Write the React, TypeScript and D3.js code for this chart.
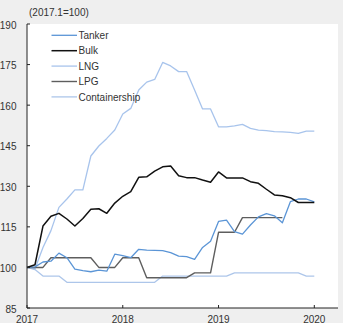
import React from "react";
import * as d3 from "d3";

// Monthly index values, 2017.1 = 100 (January 2017 through January 2020)
const tanker = [100, 100.2, 102, 102.3, 105.3, 103.6, 99.4, 98.8, 98.4, 99, 98.6, 104.9, 104.4, 103.6, 106.7, 106.4, 106.3, 106.2, 105.5, 104.2, 104, 103, 107.4, 109.7, 117, 117.5, 113.2, 112.3, 115.7, 118.7, 119.9, 119.1, 116.5, 124.3, 125.3, 125.3, 124.2];
const bulk = [100, 101, 115.3, 118.9, 120, 117.9, 115.3, 118.1, 121.5, 121.7, 120, 123.8, 126.3, 128, 133.3, 133.5, 135.6, 137.2, 137.5, 133.9, 133.2, 133.2, 132.3, 131.5, 135.3, 133.1, 133.1, 133.1, 131.7, 131.1, 128.9, 126.8, 126.5, 125.8, 124, 124, 124];
const lng = [100, 99.5, 107.4, 113.6, 122.2, 125.3, 128.7, 128.7, 141.2, 144.9, 147.7, 150.8, 156.7, 158.8, 165.6, 168.5, 169.5, 175.8, 174.5, 172.4, 172.4, 165.6, 158.6, 158.6, 152, 152, 152.3, 152.9, 151.4, 150.8, 150.6, 150.2, 150.1, 149.9, 149.6, 150.4, 150.4];
const lpg = [100, 100, 100, 103.6, 103.6, 103.6, 103.6, 103.6, 103.6, 100, 100, 100, 103.6, 103.6, 103.6, 96.2, 96.2, 96.2, 96.2, 96.2, 96.2, 98, 98, 98, 113, 113, 113, 118.4, 118.4, 118.4, 118.4, 118.4, 118.4];
const containership = [100, 99.2, 96.8, 96.8, 96.8, 94.5, 94.5, 94.5, 94.5, 94.5, 94.5, 94.5, 94.5, 94.5, 94.5, 94.5, 94.5, 96.8, 96.8, 96.8, 96.8, 96.8, 96.8, 96.8, 96.8, 96.8, 98, 98, 98, 98, 98, 98, 98, 98, 98, 96.8, 96.8];

const seriesNames = ["Tanker", "Bulk", "LNG", "LPG", "Containership"];
const seriesColors = ["#5b95d6", "#111111", "#a8c4ec", "#5e5e5e", "#adc6ea"];
const seriesWidths = [1.3, 1.5, 1.3, 1.4, 1.3];
const yTicks = [85, 100, 115, 130, 145, 160, 175, 190];
const xTicks = [2017, 2018, 2019, 2020];
const unitLabel = "(2017.1=100)";

const W = 343;
const H = 323;
const plot = { left: 27, top: 24, right: 338, bottom: 308 };
const font = "'Liberation Sans', Arial, sans-serif";
const textColor = "#333";
const fontSize = 10;

export default function App() {
  const x = d3.scaleLinear().domain([2017, 2020]).range([plot.left, 314.3]);
  const y = d3.scaleLinear().domain([85, 190]).range([plot.bottom, plot.top]);

  const allSeries = [tanker, bulk, lng, lpg, containership];
  const line = d3
    .line<number>()
    .x((_, i) => x(2017 + i / 12))
    .y((v) => y(v));

  return (
    <svg
      width={W}
      height={H}
      style={{ position: "absolute", left: 0, top: 0, display: "block" }}
      fontFamily={font}
    >
      <rect x={0} y={0} width={W} height={H} fill="#efefef" />
      <rect
        x={plot.left}
        y={plot.top}
        width={plot.right - plot.left}
        height={plot.bottom - plot.top}
        fill="#ffffff"
      />

      <text x={29} y={16} fontSize={fontSize} fill={textColor}>
        {unitLabel}
      </text>

      {/* series, drawn back to front */}
      {[4, 2, 3, 0, 1].map((k) => (
        <path
          key={seriesNames[k]}
          d={line(allSeries[k]) || ""}
          fill="none"
          stroke={seriesColors[k]}
          strokeWidth={seriesWidths[k]}
          strokeLinejoin="round"
        />
      ))}

      {/* y axis */}
      <line x1={plot.left} x2={plot.left} y1={plot.top} y2={plot.bottom} stroke="#222" strokeWidth={1} />
      {yTicks.map((t) => (
        <g key={t}>
          <line x1={plot.left} x2={plot.left + 3} y1={y(t)} y2={y(t)} stroke="#222" strokeWidth={1} />
          <text x={16.5} y={y(t) + 4.5} fontSize={fontSize} fill={textColor} textAnchor="end">
            {t}
          </text>
        </g>
      ))}

      {/* x axis */}
      <line x1={plot.left} x2={plot.right} y1={plot.bottom} y2={plot.bottom} stroke="#222" strokeWidth={1} />
      {xTicks.map((t) => (
        <g key={t}>
          <line x1={x(t)} x2={x(t)} y1={plot.bottom} y2={plot.bottom - 3} stroke="#222" strokeWidth={1} />
          <text x={x(t)} y={322.5} fontSize={fontSize} fill={textColor} textAnchor="middle">
            {t}
          </text>
        </g>
      ))}

      {/* legend */}
      {seriesNames.map((name, i) => {
        const ly = 35.3 + i * 15.4;
        return (
          <g key={name}>
            <line x1={51.5} x2={77} y1={ly} y2={ly} stroke={seriesColors[i]} strokeWidth={seriesWidths[i]} />
            <text x={78.5} y={ly + 3.7} fontSize={fontSize} fill={textColor}>
              {name}
            </text>
          </g>
        );
      })}
    </svg>
  );
}
